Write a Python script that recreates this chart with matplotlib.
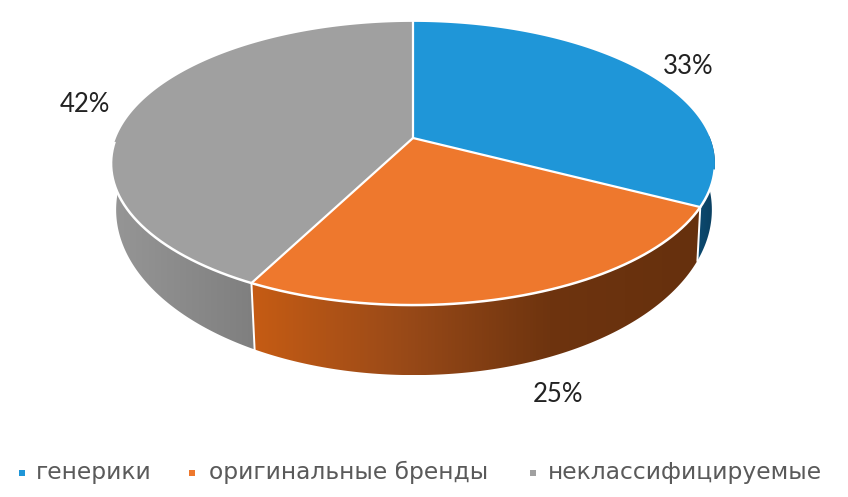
# -*- coding: utf-8 -*-

# 3D looking pie, drawn by hand because matplotlib has no perspective pie
import numpy as np
import matplotlib
matplotlib.use("Agg")
import matplotlib.pyplot as plt
from matplotlib.patches import Polygon

# Data
categories = ["генерики", "оригинальные бренды", "неклассифицируемые"]
shares = [33, 25, 42]
share_labels = ["33%", "25%", "42%"]

# Colours
top_colors = ["#1f96d8", "#ee782d", "#a0a0a0"]
wall_stops = [
    ["#0c4a70", "#0a3f60"],
    ["#c65c14", "#9a4a18", "#6e340f", "#66300d"],
    ["#969696", "#7f7f7f"],
]
TEXT_DARK = "#222222"
TEXT_LEGEND = "#5a5a5a"

W, H = 848, 497
PERSP = 0.18


def warp(t):
    # the front of the disc is turned a little against the back
    return t - 0.03 * (1 - np.cos(t)) / 2


def top_point(t):
    # t is the clockwise angle from twelve o'clock
    t = warp(t)
    u, v = np.sin(t), np.cos(t)
    d = 1 + PERSP * v
    return 413 + 297 * u / d, 138 - 137 * v / d


def bottom_point(t):
    t = warp(t)
    u, v = np.sin(t), np.cos(t)
    d = 1 + PERSP * v
    return 414 + 293 * u / d, 180 - 160 * v / d


def hex_rgb(c):
    return np.array(matplotlib.colors.to_rgb(c))


def gradient(stops):
    pos = np.linspace(0, 1, 256)
    xp = np.linspace(0, 1, len(stops))
    rgb = np.array([hex_rgb(c) for c in stops])
    return np.stack([np.interp(pos, xp, rgb[:, i]) for i in range(3)], axis=1)[None, :, :]


def main():
    fig = plt.figure(figsize=(W / 100, H / 100), dpi=100)
    ax = fig.add_axes([0, 0, 1, 1])

    edges = np.cumsum([0] + shares) / sum(shares) * 2 * np.pi

    # Side walls: only the front part of every slice is visible
    for i in range(3):
        a, b = edges[i], edges[i + 1]
        a, b = max(a, np.pi / 2), min(b, 3 * np.pi / 2)
        t = np.linspace(a, b, 120)
        tx, ty = top_point(t)
        bx, by = bottom_point(t)
        pts = np.vstack([np.column_stack([tx, ty]), np.column_stack([bx, by])[::-1]])
        poly = Polygon(pts, closed=True, fc="none", ec="none")
        ax.add_patch(poly)
        x0, x1 = pts[:, 0].min(), pts[:, 0].max()
        im = ax.imshow(gradient(wall_stops[i]), extent=[x0, x1, pts[:, 1].max(), pts[:, 1].min()],
                       aspect="auto", zorder=2, interpolation="bilinear")
        im.set_clip_path(poly)

    # Top faces
    for i in range(3):
        t = np.linspace(edges[i], edges[i + 1], 200)
        x, y = top_point(t)
        pts = np.vstack([[413, 138], np.column_stack([x, y])])
        ax.add_patch(Polygon(pts, closed=True, fc=top_colors[i], ec="none", zorder=3))

    # White seams along the slices and the front rim
    for e in edges[:-1]:
        x, y = top_point(np.array([e]))
        ax.plot([413, x[0]], [138, y[0]], color="white", lw=1.6, zorder=4, solid_capstyle="round")
    t = np.linspace(np.pi / 2 + 0.25, 3 * np.pi / 2 - 0.02, 300)
    x, y = top_point(t)
    ax.plot(x, y, color="white", lw=1.8, zorder=4)
    for e in edges[1:3]:
        x0, y0 = top_point(np.array([e]))
        x1, y1 = bottom_point(np.array([e]))
        ax.plot([x0[0], x1[0]], [y0[0], y1[0]], color="white", lw=1.4, zorder=4)

    # Percent labels
    label_pos = [(688, 67), (558, 395), (85, 104)]
    for txt, (lx, ly) in zip(share_labels, label_pos):
        ax.text(lx, ly, txt, ha="center", va="center", fontsize=18.5, family="Lato", color=TEXT_DARK, zorder=5)

    # Legend
    legend_marks = [22, 192, 533]
    legend_text = [36, 209, 548]
    for i in range(3):
        ax.scatter([legend_marks[i]], [473], marker="s", s=20, color=top_colors[i], linewidths=0, zorder=5)
        ax.text(legend_text[i], 472, categories[i], ha="left", va="center", fontsize=16.8,
                family="DejaVu Sans", color=TEXT_LEGEND, zorder=5)

    ax.set_xlim(0, W)
    ax.set_ylim(H, 0)
    ax.axis("off")
    fig.savefig("out.png", dpi=100)


if __name__ == "__main__":
    main()
